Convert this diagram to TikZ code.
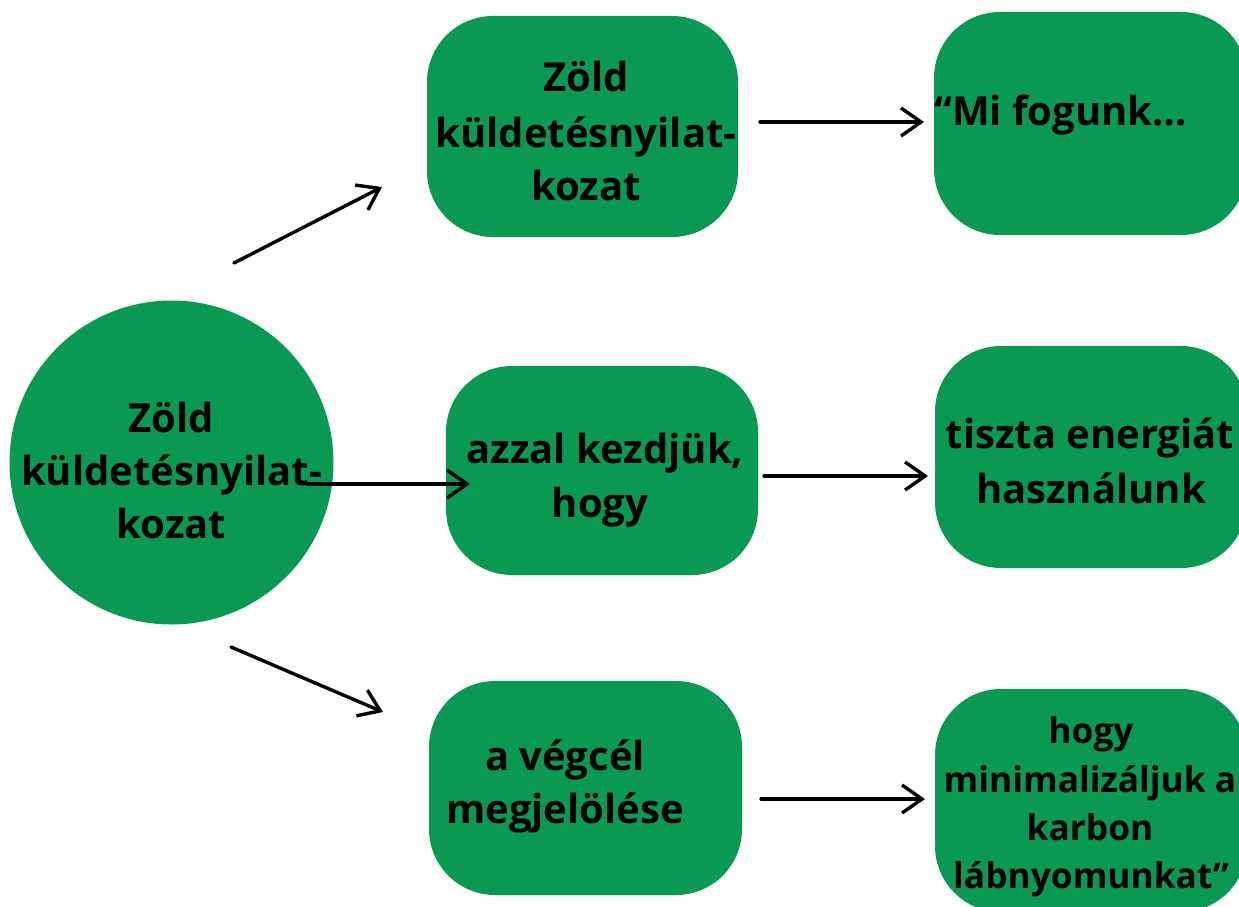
\documentclass[tikz,border=0pt]{standalone}
\usepackage{fontspec}
\setmainfont{Open Sans}
\usetikzlibrary{arrows.meta}
\definecolor{gr}{RGB}{9,153,82}
\tikzset{
  box/.style={fill=gr, draw=none, rounded corners=66pt, inner sep=0pt},
  blob/.style={fill=gr, draw=none, circle, inner sep=0pt},
  txt/.style={anchor=base, inner sep=0pt, font=\fontsize{40}{54}\selectfont\bfseries},
  stxt/.style={anchor=base, inner sep=0pt, font=\fontsize{35.3}{48}\selectfont\bfseries},
  arr/.style={line width=3.4pt, line cap=round, line join=round,
    -{Straight Barb[length=20pt, width=28pt, line width=3.4pt]}},
}
\begin{document}
\begin{tikzpicture}[x=1pt, y=-1pt]
\useasboundingbox (0,0) rectangle (1239,907);
\clip (0,0) rectangle (1239,907);
% shapes
\node[blob, minimum size=324pt] (c) at (171.5,462.5) {};
\node[box, minimum width=311pt, minimum height=221pt] (m1) at (582.5,126.5) {};
\node[box, minimum width=312pt, minimum height=209pt] (m2) at (602,470.5) {};
\node[box, minimum width=313pt, minimum height=214pt] (m3) at (585.5,788) {};
\node[box, minimum width=313pt, minimum height=223pt] (r1) at (1090.5,123.5) {};
\node[box, minimum width=312pt, minimum height=222pt] (r2) at (1091,457) {};
\node[box, minimum width=312pt, minimum height=223pt] (r3) at (1091,800.5) {};
% texts
\node[txt] (c1) at (171.5,432) {Zöld};
\node[txt] (c2) at (171.5,485) {küldetésnyilat-};
\node[txt] (c3) at (171.5,538) {kozat};
\node[txt] (m1a) at (586,92) {Zöld};
\node[txt] (m1b) at (586,147) {küldetésnyilat-};
\node[txt] (m1c) at (586,200) {kozat};
\node[txt] (m2a) at (605,463) {azzal kezdjük,};
\node[txt] (m2b) at (600,517) {hogy};
\node[txt] (m3a) at (565,770) {a végcél};
\node[txt] (m3b) at (565,823) {megjelölése};
\node[txt, anchor=base west] (r1a) at (934,125) {“Mi fogunk…};
\node[txt] (r2a) at (1090,448) {tiszta energiát};
\node[txt] (r2b) at (1091,503) {használunk};
\node[stxt] (r3a) at (1091,743) {hogy};
\node[stxt] (r3b) at (1090,792) {minimalizáljuk a};
\node[stxt] (r3c) at (1090,840) {karbon};
\node[stxt] (r3d) at (1091,888) {lábnyomunkat”};
% connector ends
\coordinate (a1s) at (234,263); \coordinate (a1e) at (382,187);
\coordinate (a2s) at (307,484); \coordinate (a2e) at (470,484);
\coordinate (a3s) at (231,647); \coordinate (a3e) at (383,712);
\coordinate (b1s) at (760,122); \coordinate (b1e) at (924,122);
\coordinate (b2s) at (764,476); \coordinate (b2e) at (928,476);
\coordinate (b3s) at (761,799); \coordinate (b3e) at (925,799);
\draw[arr] (a1s) -- (a1e);
\draw[arr] (a2s) -- (a2e);
\draw[arr] (a3s) -- (a3e);
\draw[arr] (b1s) -- (b1e);
\draw[arr] (b2s) -- (b2e);
\draw[arr] (b3s) -- (b3e);
\end{tikzpicture}
\end{document}
